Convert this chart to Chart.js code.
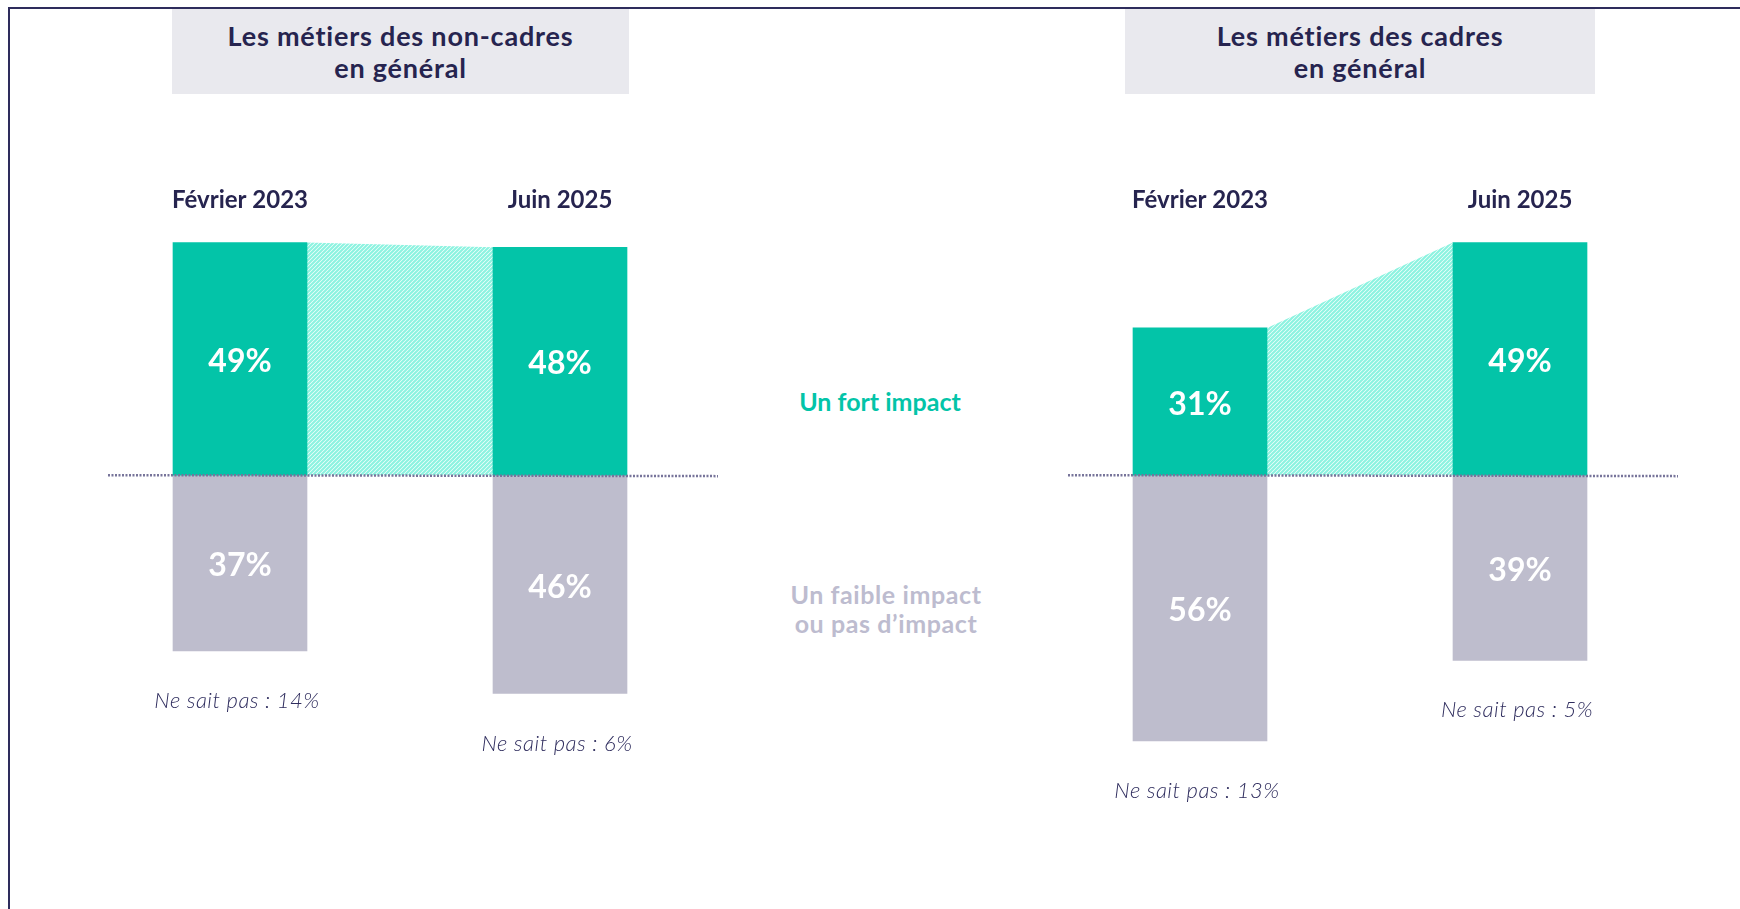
<!DOCTYPE html>
<html lang="fr">
<head>
<meta charset="utf-8">
<title>Impact sur les métiers</title>
<script src="https://cdn.jsdelivr.net/npm/chart.js@4.4.1/dist/chart.umd.min.js"></script>
<style>
  html, body { margin: 0; padding: 0; width: 1740px; height: 909px; background: #fff; overflow: hidden; }
  body { position: relative; font-family: Lato, "Noto Sans", sans-serif; }
  .cadre { position: absolute; left: 8px; top: 7px; width: 1760px; height: 930px;
           border-top: 2px solid #2e2c5c; border-left: 2px solid #2e2c5c; }
  .titre { position: absolute; top: 9px; height: 85px; background: #e9e9ee; color: #26244f;
           font-weight: 700; font-size: 27px; letter-spacing: 0.8px; line-height: 32px; text-align: center;
           display: flex; align-items: center; justify-content: center; }
  .legende { position: absolute; font-weight: 700; font-size: 25px; line-height: 29px; text-align: center; width: 280px; }
  canvas { position: absolute; top: 0; }
</style>
</head>
<body>
<div class="cadre"></div>
<div class="titre" style="left:172px; width:457px;">Les métiers des non-cadres<br>en général</div>
<div class="titre" style="left:1125px; width:470px;">Les métiers des cadres<br>en général</div>
<div class="legende" style="left:740px; top:387px; color:#03c4a8;">Un fort impact</div>
<div class="legende" style="left:746px; top:580px; color:#bdbccf; letter-spacing:0.6px;">Un faible impact<br>ou pas d’impact</div>
<canvas id="chartNonCadres" width="870" height="909" style="left:0;"></canvas>
<canvas id="chartCadres" width="870" height="909" style="left:870px;"></canvas>
<script>
// Périodes de l'enquête
const periodes = ['Février 2023', 'Juin 2025'];

// Non-cadres
const fortNonCadres = [49, 48];
const faibleNonCadres = [37, 46];
const nspNonCadres = [14, 6];

// Cadres
const fortCadres = [31, 49];
const faibleCadres = [56, 39];
const nspCadres = [13, 5];

const VERT = '#03c4a8';
const GRIS = '#bebdcd';
const MARINE = '#26244f';

// motif hachuré pour la zone entre les deux barres vertes
function makeHatch() {
    const c = document.createElement('canvas');
    c.width = 4; c.height = 4;
    const g = c.getContext('2d');
    g.fillStyle = '#ffffff';
    g.fillRect(0, 0, 4, 4);
    g.strokeStyle = '#8cf3e0';
    g.lineWidth = 2.2;
    g.beginPath();
    g.moveTo(-1, 5); g.lineTo(5, -1);
    g.moveTo(-1, 1); g.lineTo(1, -1);
    g.moveTo(3, 5); g.lineTo(5, 3);
    g.stroke();
    return g.createPattern(c, 'repeat');
}

const hachurePlugin = {
    id: 'hachure',
    beforeDatasetsDraw(chart) {
        const bars = chart.getDatasetMeta(0).data;
        if (bars.length < 2) return;
        const a = bars[0], b = bars[1];
        const base = chart.scales.y.getPixelForValue(0);
        const ctx = chart.ctx;
        ctx.save();
        ctx.fillStyle = makeHatch();
        ctx.beginPath();
        ctx.moveTo(a.x + a.width / 2, a.y);
        ctx.lineTo(b.x - b.width / 2, b.y);
        ctx.lineTo(b.x - b.width / 2, base);
        ctx.lineTo(a.x + a.width / 2, base);
        ctx.closePath();
        ctx.fill();
        ctx.restore();
    }
};

const etiquettesPlugin = {
    id: 'etiquettes',
    afterDatasetsDraw(chart, args, opts) {
        const ctx = chart.ctx;
        const y0 = chart.scales.y.getPixelForValue(0);
        const bars = chart.getDatasetMeta(0).data;

        // ligne pointillée du zéro
        ctx.save();
        ctx.strokeStyle = '#77749a';
        ctx.lineWidth = 2.5;
        ctx.setLineDash([2, 1.5]);
        ctx.beginPath();
        ctx.moveTo(bars[0].x - bars[0].width / 2 - 65, y0);
        ctx.lineTo(bars[bars.length - 1].x + bars[bars.length - 1].width / 2 + 91, y0 + 1);
        ctx.stroke();
        ctx.restore();

        ctx.save();
        ctx.textAlign = 'center';
        ctx.textBaseline = 'middle';
        // valeurs dans les barres
        chart.data.datasets.forEach((ds, i) => {
            chart.getDatasetMeta(i).data.forEach((bar, j) => {
                ctx.fillStyle = '#ffffff';
                ctx.font = 'bold 32px Lato, "Noto Sans", sans-serif';
                ctx.fillText(Math.abs(ds.data[j]) + '%', bar.x, (bar.y + bar.base) / 2 + 3);
            });
        });
        // "Ne sait pas" sous les barres grises
        ctx.font = 'italic 300 22px Lato, "Noto Sans", sans-serif';
        ctx.letterSpacing = '0.5px';
        ctx.fillStyle = '#2f2d5e';
        chart.getDatasetMeta(1).data.forEach((bar, j) => {
            ctx.fillText('Ne sait pas : ' + opts.nsp[j] + '%', bar.x - 3, bar.y + 50);
        });
        // périodes au-dessus
        ctx.letterSpacing = '0px';
        ctx.fillStyle = MARINE;
        ctx.font = 'bold 24px Lato, "Noto Sans", sans-serif';
        chart.data.labels.forEach((lab, j) => {
            ctx.fillText(lab, chart.scales.x.getPixelForValue(j), 200);
        });
        ctx.restore();
    }
};

function createChart(id, fort, faible, nsp, padLeft, padRight) {
    const ctx = document.getElementById(id).getContext('2d');
    return new Chart(ctx, {
        type: 'bar',
        data: {
            labels: periodes,
            datasets: [{
                label: 'Un fort impact',
                data: fort,
                backgroundColor: VERT,
                barThickness: 134
            }, {
                label: 'Un faible impact ou pas d’impact',
                data: faible.map(v => -v),
                backgroundColor: GRIS,
                barThickness: 134
            }]
        },
        options: {
            responsive: false,
            animation: false,
            layout: { padding: { left: padLeft, right: padRight, top: 214, bottom: 149 } },
            scales: {
                x: { stacked: true, display: false },
                y: { stacked: true, display: false, min: -60, max: 55 }
            },
            plugins: {
                legend: { display: false },
                tooltip: { enabled: false },
                etiquettes: { nsp: nsp }
            }
        },
        plugins: [hachurePlugin, etiquettesPlugin]
    });
}

createChart('chartNonCadres', fortNonCadres, faibleNonCadres, nspNonCadres, 80, 150);
createChart('chartCadres', fortCadres, faibleCadres, nspCadres, 170, 60);
</script>
</body>
</html>
